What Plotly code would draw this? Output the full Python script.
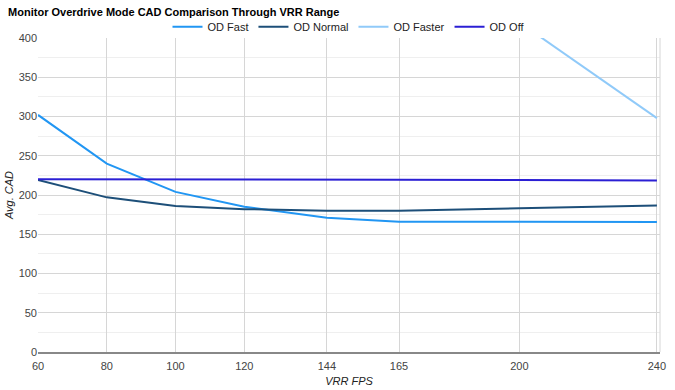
import plotly.graph_objects as go

fps = [60, 80, 100, 120, 144, 165, 200, 240]
od_fast = [302, 240, 204, 185, 171, 166, 166, 165.5]
od_normal = [219, 197, 186, 182, 180, 180, 183, 186.5]
od_faster = [None, None, None, None, None, None, 420, 298]
od_off = [220, 220, 220, 220, 219.5, 219.5, 219, 218.5]
y_ticks = [0, 50, 100, 150, 200, 250, 300, 350, 400]

font = "Liberation Sans, Arial, sans-serif"
fig = go.Figure()
series = [
    ("OD Fast", od_fast, "#2196F3"),
    ("OD Normal", od_normal, "#1D4F79"),
    ("OD Faster", od_faster, "#90CAF9"),
    ("OD Off", od_off, "#2B1FD4"),
]
for name, ys, col in series:
    fig.add_trace(go.Scatter(x=fps, y=ys, name=name, mode="lines",
                             line=dict(color=col, width=2), connectgaps=False))

fig.update_layout(
    width=675, height=390,
    paper_bgcolor="white", plot_bgcolor="white",
    margin=dict(l=38, r=15, t=38, b=38, autoexpand=False),
    title=dict(text="<b>Monitor Overdrive Mode CAD Comparison Through VRR Range</b>",
               x=0.012, xref="container", xanchor="left",
               y=0.969, yref="container", yanchor="middle",
               font=dict(family=font, size=11, color="#000")),
    legend=dict(orientation="h", x=0.5, xanchor="center", y=1.036, yanchor="middle",
                font=dict(family=font, size=11, color="#222"),
                traceorder="normal", bgcolor="rgba(0,0,0,0)"),
    font=dict(family=font, size=11, color="#444"),
    showlegend=True,
)
fig.update_xaxes(range=[60, 240.9], tickmode="array", tickvals=fps,
                 ticktext=[str(v) for v in fps], automargin=False,
                 showgrid=True, gridcolor="#d6d6d6", gridwidth=1,
                 showline=True, linecolor="#888", linewidth=1.5,
                 zeroline=False, ticks="", ticklen=0, ticklabelstandoff=3,
                 title=dict(text="<i>VRR FPS</i>", standoff=6,
                            font=dict(family=font, size=11, color="#222")))
fig.update_yaxes(range=[0, 400], tickmode="array", tickvals=y_ticks, automargin=False,
                 showgrid=True, gridcolor="#d6d6d6", gridwidth=1,
                 minor=dict(dtick=25, showgrid=True, gridcolor="#efefef", gridwidth=1),
                 zeroline=False, showline=False, ticks="",
                 title=dict(text="<i>Avg. CAD</i>", standoff=2,
                            font=dict(family=font, size=11, color="#222")))
fig.add_shape(type="line", xref="paper", yref="paper", x0=1, x1=1, y0=0, y1=1,
              line=dict(color="#d6d6d6", width=1))
fig.write_html("out.html", config={"displayModeBar": False},
               post_script="document.body.style.margin='0';")
